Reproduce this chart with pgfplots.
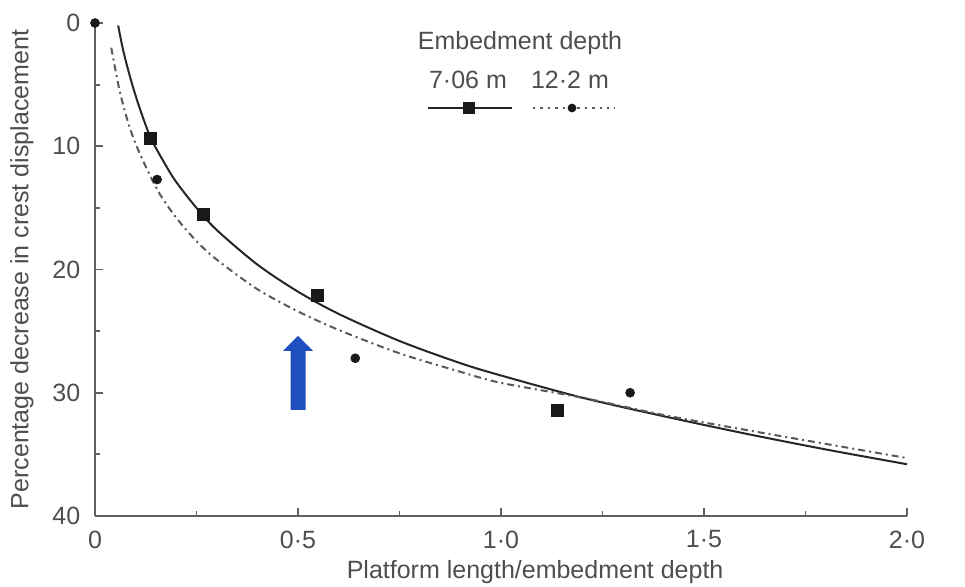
\documentclass[border=0pt]{standalone}
\usepackage{pgfplots}
\pgfplotsset{compat=1.18}
\usepackage{fontspec}
\setmainfont{Liberation Sans}
\definecolor{txt}{RGB}{78,78,78}
\definecolor{ax}{RGB}{95,95,95}
\definecolor{arrowblue}{RGB}{31,79,191}
\begin{document}
\fontsize{12.5}{15}\selectfont
\begin{tikzpicture}
\useasboundingbox (-47.5pt,-35.5pt) rectangle (435pt,258pt);
\begin{axis}[
  at={(0pt,0pt)}, anchor=south west,
  scale only axis, width=406pt, height=246.5pt,
  xmin=0, xmax=2, ymin=0, ymax=40, y dir=reverse,
  axis x line*=bottom, axis y line*=left,
  axis line style={ax, line width=1pt},
  clip=false,
  tick align=inside,
  major tick length=4pt, minor tick length=2.5pt,
  minor x tick num=1, minor y tick num=1,
  every tick/.style={ax, line width=0.9pt},
  xtick={0,0.5,1,1.5,2},
  xticklabels={0,0·5,1·0,1·5,2·0},
  ytick={0,10,20,30,40},
  /pgf/number format/assume math mode=true,
  tick label style={font=\fontsize{12.5}{15}\selectfont, text=txt},
  xticklabel style={yshift=-3pt},
  yticklabel style={xshift=-3pt},
  label style={font=\fontsize{12.5}{15}\selectfont, text=txt},
  xlabel={Platform length/embedment depth},
  ylabel={Percentage decrease in crest displacement},
  xlabel style={at={(axis description cs:0.542,-0.113)}, anchor=center},
  ylabel style={at={(axis description cs:-0.09,0.5)}, anchor=center},
]
% 7.06 m fitted curve
\addplot[black!85, line width=1pt, smooth] coordinates {
 (0.057,0.2) (0.07,2.3) (0.09,4.8) (0.11,6.9) (0.137,9.3) (0.17,11.3) (0.2,12.9)
 (0.25,15.0) (0.3,16.8) (0.4,19.6) (0.5,21.8) (0.6,23.6) (0.75,25.8) (0.9,27.6)
 (1.0,28.6) (1.2,30.4) (1.4,31.9) (1.6,33.3) (1.8,34.6) (2.0,35.8)};
% 12.2 m fitted curve
\addplot[black!65, line width=1pt, smooth,
  dash pattern=on 3.5pt off 2pt on 1pt off 2pt] coordinates {
 (0.04,2.0) (0.06,5.4) (0.08,7.9) (0.1,9.8) (0.13,12.0) (0.16,13.9) (0.2,15.8)
 (0.25,17.7) (0.3,19.2) (0.4,21.6) (0.5,23.4) (0.6,24.9) (0.75,26.8) (0.9,28.3)
 (1.0,29.2) (1.2,30.4) (1.4,31.8) (1.6,33.0) (1.8,34.15) (2.0,35.3)};
% 7.06 m measured
\addplot[black!90, only marks, mark=square*, mark size=3pt] coordinates {
 (0.137,9.4) (0.267,15.5) (0.549,22.1) (1.139,31.4)};
% 12.2 m measured
\addplot[black!90, only marks, mark=*, mark size=2.2pt] coordinates {
 (0,0) (0.153,12.7) (0.641,27.2) (1.318,30.0)};
\end{axis}
% legend
\node[text=txt] at (212.5pt,236.5pt) {Embedment depth};
\node[text=txt] at (186.5pt,218pt) {7·06 m};
\node[text=txt] at (237.5pt,218pt) {12·2 m};
\draw[black!85, line width=1pt] (166.5pt,204pt) -- (208.5pt,204pt);
\node[fill=black!90, minimum size=6pt, inner sep=0pt] at (187pt,204pt) {};
\draw[black!65, line width=1pt, dash pattern=on 1.2pt off 2.5pt] (219pt,204pt) -- (260pt,204pt);
\fill[black!90] (238.5pt,204pt) circle (2.2pt);
% blue arrow annotation
\fill[arrowblue] (97.75pt,53pt) -- (105.25pt,53pt) -- (105.25pt,82.5pt) -- (109pt,82.5pt)
  -- (101.5pt,90pt) -- (94pt,82.5pt) -- (97.75pt,82.5pt) -- cycle;
\end{tikzpicture}
\end{document}
